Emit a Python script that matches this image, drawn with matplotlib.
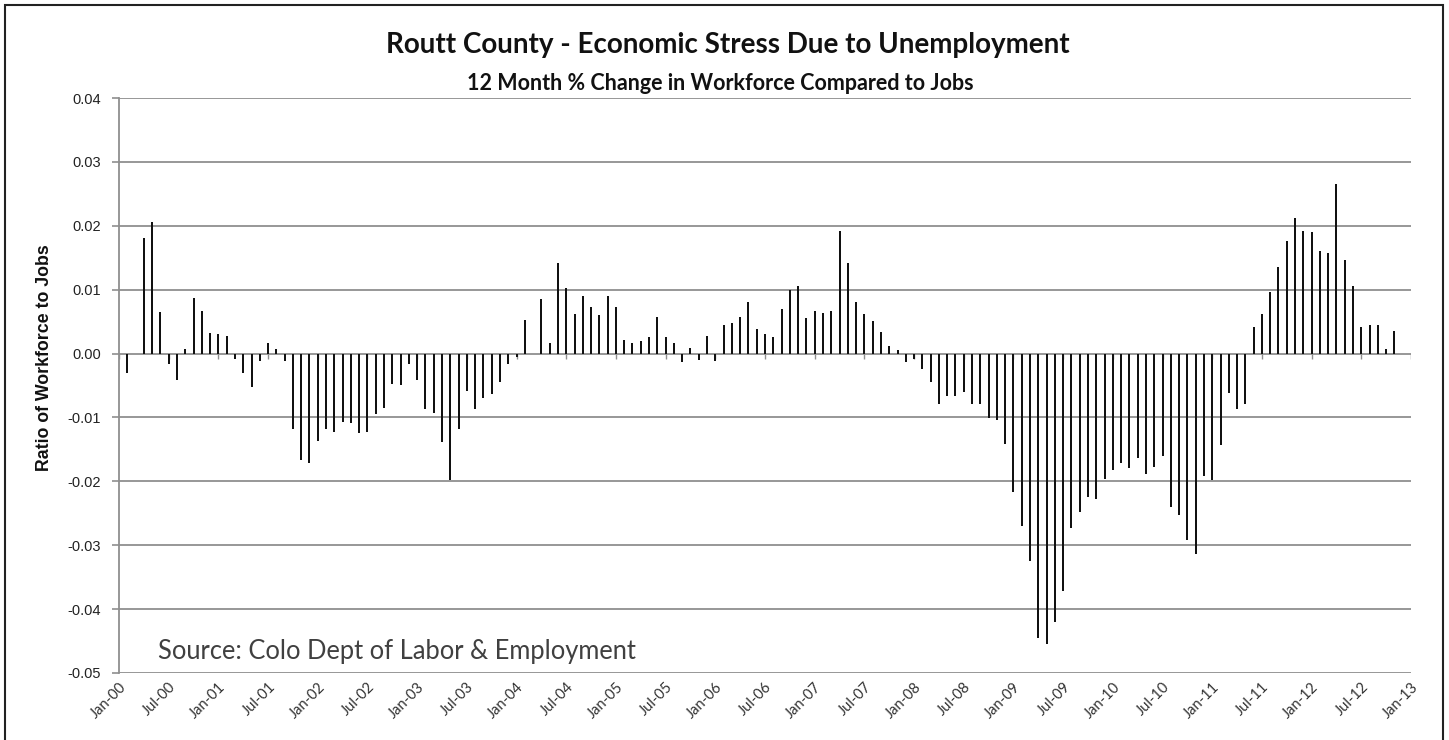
import numpy as np
import matplotlib
matplotlib.use("Agg")
import matplotlib.pyplot as plt
from matplotlib.patches import Rectangle
from matplotlib.transforms import ScaledTranslation

# Monthly values (Feb-2000 .. Nov-2012), ratio of workforce change to job change
values = [
    -0.0031, 0.0000, 0.0181, 0.0206, 0.0065, -0.0017, -0.0041, 0.0007, 0.00875, 0.0067,
    0.0032, 0.0031, 0.0028, -0.0009, -0.0031, -0.0052, -0.00115, 0.00167, 0.0007, -0.00115,
    -0.0118, -0.0167, -0.0171, -0.0137, -0.0118, -0.0122, -0.0107, -0.0109, -0.0125, -0.0122,
    -0.0095, -0.0085, -0.0048, -0.00495, -0.0017, -0.0041, -0.0086, -0.0093, -0.0138, -0.0198,
    -0.0118, -0.0058, -0.0086, -0.0070, -0.00635, -0.0044, -0.0017, -0.0006, 0.00526, 0.0000,
    0.0085, 0.0016, 0.0142, 0.0103, 0.00625, 0.0090, 0.0073, 0.0060, 0.0090, 0.0073,
    0.0021, 0.0016, 0.0019, 0.00255, 0.0057, 0.00255, 0.0016, -0.0013, 0.0009, -0.0010,
    0.00275, -0.0012, 0.0044, 0.0048, 0.0057, 0.00805, 0.0039, 0.0030, 0.00255, 0.0069,
    0.0100, 0.0105, 0.0056, 0.0066, 0.0064, 0.0066, 0.0192, 0.0142, 0.00805, 0.0062,
    0.0051, 0.0033, 0.00125, 0.0006, -0.00125, -0.0009, -0.0024, -0.0045, -0.0079, -0.0067,
    -0.0066, -0.0060, -0.0079, -0.0079, -0.0101, -0.0104, -0.0141, -0.0216, -0.0270, -0.0324,
    -0.0445, -0.0454, -0.0420, -0.0372, -0.0273, -0.0248, -0.0225, -0.0227, -0.0196, -0.0182,
    -0.0172, -0.0179, -0.0163, -0.0189, -0.0177, -0.0161, -0.0240, -0.0253, -0.0292, -0.0313,
    -0.0191, -0.0198, -0.0143, -0.00625, -0.00875, -0.0079, 0.00416, 0.0062, 0.0096, 0.0135,
    0.0176, 0.0212, 0.0192, 0.0190, 0.0160, 0.0157, 0.0265, 0.0146, 0.0105, 0.0042,
    0.0044, 0.0044, 0.0007, 0.0035,
]
first_month = 1  # months after Jan-2000 of the first value

tick_labels = [
    "Jan-00", "Jul-00", "Jan-01", "Jul-01", "Jan-02", "Jul-02", "Jan-03", "Jul-03",
    "Jan-04", "Jul-04", "Jan-05", "Jul-05", "Jan-06", "Jul-06", "Jan-07", "Jul-07",
    "Jan-08", "Jul-08", "Jan-09", "Jul-09", "Jan-10", "Jul-10", "Jan-11", "Jul-11",
    "Jan-12", "Jul-12", "Jan-13",
]
y_ticks = [0.04, 0.03, 0.02, 0.01, 0.00, -0.01, -0.02, -0.03, -0.04, -0.05]

title = "Routt County - Economic Stress Due to Unemployment"
subtitle = "12 Month % Change in Workforce Compared to Jobs"
ylabel = "Ratio of Workforce to Jobs"
source = "Source: Colo Dept of Labor & Employment"

W, H = 1449, 740
fig = plt.figure(figsize=(W / 100, H / 100), dpi=100)
fig.patch.set_facecolor("white")
ax = fig.add_axes([119 / W, 1 - 673 / H, (1411 - 119) / W, (673 - 98) / H])

x = np.arange(len(values)) + first_month
ax.bar(x, values, width=0.24, color="#111111", zorder=3)

tick_pos = np.arange(len(tick_labels)) * 6
ax.set_xlim(0, tick_pos[-1])
ax.set_ylim(min(y_ticks), max(y_ticks))

grid_c = "#8f8f8f"
for yv in y_ticks:
    ax.axhline(yv, color=grid_c, lw=1.3, zorder=1)
# category axis at zero with tick marks
ax.vlines(tick_pos, -0.0008, 0, color=grid_c, lw=1.0, zorder=2)

ax.set_yticks(y_ticks)
ax.set_yticklabels([f"{v:.2f}" for v in y_ticks], fontfamily="Liberation Sans",
                   fontsize=10.5, color="#222222")
ax.set_xticks(tick_pos)
ax.set_xticklabels(tick_labels, rotation=45, ha="right", rotation_mode="anchor",
                   fontfamily="Lato", fontsize=10.5, color="#333333")
shift = ScaledTranslation(7 / 100, 0, fig.dpi_scale_trans)
for lab in ax.get_xticklabels():
    lab.set_transform(lab.get_transform() + shift)
ax.tick_params(axis="x", length=0, pad=5)
ax.tick_params(axis="y", length=5, color=grid_c, width=1.2, pad=8)

for s in ["top", "right", "bottom"]:
    ax.spines[s].set_visible(False)
ax.spines["left"].set_color(grid_c)
ax.spines["left"].set_linewidth(1.3)

fig.text(45 / W, 1 - 358 / H, ylabel, rotation=90, ha="center", va="center",
         fontfamily="Liberation Sans", fontweight="bold", fontsize=12.8, color="#111111")

fig.text(728 / W, 1 - 45 / H, title, ha="center", va="center",
         fontfamily="Lato", fontweight="bold", fontsize=20, color="#111111")
fig.text(720 / W, 1 - 83 / H, subtitle, ha="center", va="center",
         fontfamily="Lato", fontweight="bold", fontsize=15.5, color="#111111")
fig.text(158 / W, 1 - 651 / H, source, ha="left", va="center",
         fontfamily="Lato", fontsize=18.4, color="#404040")

# outer chart border
fig.patches.append(Rectangle((5 / W, -0.05), (1443 - 5) / W, 1.05 - 5 / H,
                             transform=fig.transFigure, fill=False,
                             edgecolor="#222222", lw=1.5))

fig.savefig("out.png", dpi=100)
